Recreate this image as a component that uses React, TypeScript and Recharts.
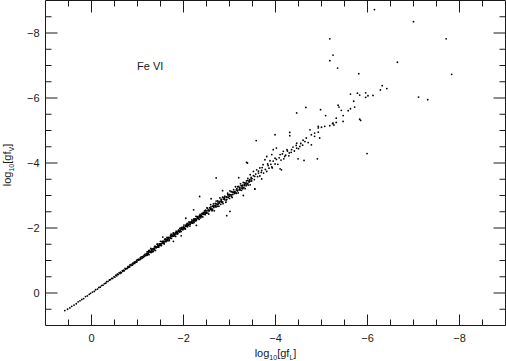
import React from 'react';
import { ScatterChart, Scatter, XAxis, YAxis } from 'recharts';

// log10[gf_L] (x) vs log10[gf_V] (y) pairs
const bandLow: number[][] = [
  [0.58,0.54],[0.52,0.50],[0.47,0.46],[0.43,0.41],[0.38,0.37],[0.33,0.33],[0.29,0.27],[0.25,0.24],[0.21,0.20],[0.17,0.17],
  [0.13,0.11],[0.09,0.09],[0.05,0.04],[0.02,0.01],[-0.02,-0.03],[-0.06,-0.05],[-0.09,-0.10],[-0.13,-0.12],[-0.16,-0.17],[-0.19,-0.18],
  [-0.22,-0.23],[-0.25,-0.24],[-0.28,-0.29],[-0.31,-0.30],[-0.33,-0.35],[-0.36,-0.36],[-0.39,-0.40],[-0.41,-0.41],[-0.44,-0.45],[-0.46,-0.45],
  [-0.49,-0.50],[-0.51,-0.49],[-0.53,-0.55],[-0.55,-0.53],[-0.56,-0.58],[-0.58,-0.57],[-0.60,-0.62],[-0.62,-0.60],[-0.63,-0.64],[-0.65,-0.62],
  [-0.67,-0.69],[-0.68,-0.67],[-0.70,-0.70],[-0.71,-0.68],[-0.73,-0.76],[-0.74,-0.73],[-0.76,-0.75],[-0.78,-0.76],[-0.79,-0.81],[-0.80,-0.79],
  [-0.82,-0.83],[-0.83,-0.80],[-0.84,-0.87],[-0.86,-0.85],[-0.88,-0.89],[-0.89,-0.86],[-0.90,-0.92],[-0.91,-0.90],[-0.93,-0.95],[-0.94,-0.91],
  [-0.95,-0.96],[-0.97,-0.95],[-0.98,-1.00],[-0.99,-0.96],[-1.00,-1.03],[-1.02,-1.01],[-1.03,-1.04],[-1.05,-1.02],[-1.06,-1.08],[-1.07,-1.05],
  [-1.08,-1.11],[-1.10,-1.07],[-1.11,-1.12],[-1.13,-1.10],[-1.14,-1.16],[-1.15,-1.13],[-1.16,-1.19],[-1.18,-1.15],[-1.19,-1.20],
];

const bandMid: number[][] = [
  [-1.20,-1.18],[-1.21,-1.27],[-1.21,-1.17],[-1.22,-1.22],[-1.24,-1.27],[-1.25,-1.18],[-1.25,-1.26],[-1.26,-1.31],[-1.28,-1.25],[-1.29,-1.37],
  [-1.30,-1.25],[-1.30,-1.29],[-1.32,-1.36],[-1.33,-1.27],[-1.35,-1.37],[-1.35,-1.35],[-1.36,-1.32],[-1.38,-1.44],[-1.39,-1.31],[-1.40,-1.43],
  [-1.41,-1.40],[-1.43,-1.50],[-1.44,-1.41],[-1.44,-1.45],[-1.46,-1.41],[-1.47,-1.51],[-1.49,-1.47],[-1.50,-1.59],[-1.50,-1.47],[-1.52,-1.46],
  [-1.53,-1.58],[-1.55,-1.55],[-1.56,-1.55],[-1.56,-1.59],[-1.58,-1.51],[-1.59,-1.65],[-1.61,-1.59],[-1.62,-1.58],[-1.63,-1.65],[-1.64,-1.71],
  [-1.66,-1.61],[-1.67,-1.67],[-1.67,-1.71],[-1.69,-1.61],[-1.71,-1.72],[-1.72,-1.69],[-1.73,-1.81],[-1.74,-1.68],[-1.76,-1.78],[-1.77,-1.76],
  [-1.78,-1.83],[-1.79,-1.75],[-1.81,-1.81],[-1.82,-1.85],[-1.83,-1.74],[-1.84,-1.90],[-1.86,-1.84],[-1.87,-1.88],[-1.88,-1.83],[-1.90,-1.94],
  [-1.91,-1.88],[-1.92,-1.99],[-1.93,-1.92],[-1.95,-1.89],[-1.96,-1.98],[-1.97,-2.02],[-1.99,-1.95],[-2.00,-2.00],[-2.01,-2.09],[-2.02,-1.99],
  [-2.04,-1.97],[-2.05,-2.08],[-2.06,-2.05],[-2.08,-2.14],[-2.09,-2.04],[-2.10,-2.11],[-2.11,-2.09],[-2.13,-2.17],[-2.14,-2.06],[-2.15,-2.17],
  [-2.17,-2.17],[-2.18,-2.25],[-2.19,-2.15],[-2.21,-2.20],[-2.22,-2.27],[-2.23,-2.17],[-2.24,-2.27],[-2.26,-2.24],[-2.27,-2.36],[-2.28,-2.23],
  [-2.30,-2.30],[-2.31,-2.35],[-2.32,-2.29],[-2.34,-2.27],[-2.35,-2.36],[-2.36,-2.42],[-2.38,-2.36],[-2.39,-2.35],[-2.40,-2.43],[-2.42,-2.34],
  [-2.43,-2.48],[-2.44,-2.43],[-2.46,-2.48],[-2.47,-2.41],[-2.48,-2.55],[-2.49,-2.46],
  [-1.207,-1.218],[-1.233,-1.221],[-1.262,-1.279],[-1.284,-1.276],[-1.314,-1.301],[-1.338,-1.352],[-1.367,-1.361],[-1.392,-1.404],[-1.418,-1.409],[-1.446,-1.462],
  [-1.473,-1.466],[-1.497,-1.511],[-1.523,-1.514],[-1.548,-1.536],[-1.574,-1.589],[-1.601,-1.594],[-1.627,-1.643],[-1.652,-1.641],[-1.681,-1.692],[-1.706,-1.699],
  [-1.733,-1.748],[-1.758,-1.747],[-1.786,-1.801],[-1.812,-1.803],[-1.838,-1.852],[-1.865,-1.856],[-1.891,-1.906],[-1.917,-1.905],[-1.944,-1.958],[-1.969,-1.961],
  [-1.996,-2.012],[-2.023,-2.014],[-2.048,-2.063],[-2.075,-2.064],[-2.102,-2.117],[-2.127,-2.119],[-2.155,-2.171],[-2.181,-2.169],[-2.207,-2.223],[-2.234,-2.226],
  [-2.261,-2.279],[-2.287,-2.276],[-2.313,-2.331],[-2.339,-2.328],[-2.366,-2.384],[-2.392,-2.381],[-2.419,-2.437],[-2.446,-2.433],[-2.472,-2.491],[-2.497,-2.487],
  [-1.215,-1.175],[-1.246,-1.306],[-1.278,-1.258],[-1.305,-1.335],[-1.343,-1.283],[-1.371,-1.421],[-1.404,-1.394],[-1.431,-1.501],[-1.462,-1.432],[-1.489,-1.509],
  [-1.518,-1.468],[-1.544,-1.584],[-1.579,-1.539],[-1.606,-1.666],[-1.634,-1.614],[-1.662,-1.692],[-1.693,-1.633],[-1.719,-1.769],[-1.751,-1.741],[-1.779,-1.849],
  [-1.807,-1.777],[-1.833,-1.853],[-1.861,-1.811],[-1.889,-1.929],[-1.921,-1.881],[-1.948,-2.008],[-1.977,-1.957],[-2.006,-2.036],[-2.034,-1.974],[-2.062,-2.112],
  [-2.091,-2.081],[-2.118,-2.188],[-2.146,-2.116],[-2.175,-2.195],[-2.203,-2.153],[-2.231,-2.271],[-2.259,-2.219],[-2.288,-2.348],[-2.317,-2.297],[-2.345,-2.375],
  [-2.374,-2.314],[-2.402,-2.452],[-2.431,-2.421],[-2.459,-2.529],[-2.487,-2.457],
  [-1.78,-1.59],[-2.22,-2.56],[-2.35,-2.97],[-1.55,-1.72],[-2.05,-2.30],[-1.95,-1.76],[-2.28,-2.08],
];

const bandHigh: number[][] = [
  [-2.50,-2.46],[-2.51,-2.62],[-2.53,-2.46],[-2.54,-2.56],[-2.55,-2.43],[-2.57,-2.63],[-2.58,-2.57],[-2.59,-2.72],[-2.61,-2.56],[-2.62,-2.53],
  [-2.63,-2.67],[-2.65,-2.74],[-2.66,-2.63],[-2.67,-2.53],[-2.69,-2.76],[-2.70,-2.70],[-2.71,-2.83],[-2.73,-2.67],[-2.74,-2.72],[-2.75,-2.80],
  [-2.77,-2.67],[-2.78,-2.79],[-2.79,-2.93],[-2.81,-2.73],[-2.82,-2.85],[-2.83,-2.79],[-2.85,-2.95],[-2.86,-2.75],[-2.88,-2.94],[-2.89,-2.88],
  [-2.90,-2.98],[-2.92,-2.79],[-2.93,-2.95],[-2.94,-2.88],[-2.96,-3.07],[-2.97,-2.94],[-2.98,-3.02],[-3.00,-2.91],[-3.01,-3.14],[-3.02,-3.02],
  [-3.04,-2.97],[-3.05,-3.12],[-3.06,-2.94],[-3.08,-3.10],[-3.09,-3.18],[-3.11,-3.06],[-3.12,-3.11],[-3.13,-3.27],[-3.15,-3.07],[-3.16,-3.21],
  [-3.17,-3.14],[-3.19,-3.08],[-3.20,-3.28],[-3.22,-3.23],[-3.23,-3.17],[-3.24,-3.36],[-3.26,-3.16],[-3.27,-3.30],[-3.28,-3.26],[-3.30,-3.40],
  [-3.31,-3.24],[-3.33,-3.39],[-3.34,-3.21],[-3.35,-3.36],[-3.37,-3.45],[-3.38,-3.34],[-3.40,-3.53],[-3.41,-3.32],[-3.42,-3.42],[-3.44,-3.49],
  [-3.45,-3.33],[-3.47,-3.56],[-3.48,-3.45],[-3.49,-3.52],
  [-2.512,-2.531],[-2.547,-2.528],[-2.583,-2.604],[-2.618,-2.597],[-2.652,-2.671],[-2.689,-2.668],[-2.724,-2.745],[-2.758,-2.741],[-2.793,-2.817],[-2.829,-2.806],
  [-2.864,-2.889],[-2.898,-2.874],[-2.935,-2.958],[-2.969,-2.951],[-3.004,-3.031],[-3.041,-3.018],[-3.076,-3.099],[-3.111,-3.087],[-3.147,-3.172],[-3.182,-3.161],
  [-3.218,-3.244],[-3.253,-3.229],[-3.289,-3.316],[-3.324,-3.301],[-3.361,-3.388],[-3.396,-3.372],[-3.432,-3.461],[-3.468,-3.443],
  [-2.523,-2.608],[-2.561,-2.531],[-2.597,-2.647],[-2.634,-2.554],[-2.671,-2.691],[-2.706,-2.646],[-2.745,-2.835],[-2.781,-2.771],[-2.817,-2.887],[-2.852,-2.802],
  [-2.889,-2.919],[-2.927,-2.837],[-2.962,-3.022],[-2.998,-2.978],[-3.035,-3.115],[-3.071,-3.031],[-3.107,-3.117],[-3.143,-3.073],[-3.179,-3.269],[-3.215,-3.185],
  [-3.252,-3.302],[-3.287,-3.207],[-3.324,-3.344],[-3.361,-3.301],[-3.397,-3.467],[-3.433,-3.423],[-3.469,-3.509],
  [-2.71,-3.54],[-2.94,-2.38],[-3.01,-2.51],[-3.39,-4.00],[-3.55,-3.20],[-2.60,-2.90],[-3.20,-3.55],[-3.30,-3.00],[-2.85,-3.15],
  [-3.52,-3.61],[-3.54,-3.49],[-3.57,-3.66],[-3.61,-3.58],[-3.63,-3.75],[-3.66,-3.60],[-3.69,-3.71],[-3.71,-3.86],[-3.74,-3.69],[-3.78,-3.80],
  [-3.81,-3.74],[-3.83,-3.97],[-3.86,-3.84],[-3.90,-3.96],[-3.93,-3.85],[-3.95,-4.06],[-3.99,-3.97],[-4.02,-4.11],[-4.05,-3.96],[-4.08,-4.16],
  [-4.12,-4.09],[-4.15,-4.28],[-4.18,-4.13],[-4.22,-4.24],[-4.26,-4.37],[-4.29,-4.22],[-4.34,-4.33],[-4.38,-4.49],[-4.41,-4.37],[-4.45,-4.54],
  [-4.50,-4.44],[-4.55,-4.60],[-4.59,-4.55],
];

const upperCluster: number[][] = [
  [-6.32,-6.38],[-6.42,-6.29],[-6.28,-6.25],[-5.63,-6.12],[-5.78,-6.15],[-5.83,-6.09],[-5.96,-6.16],[-6.01,-6.07],[-5.96,-6.02],[-6.12,-6.08],
  [-5.70,-5.90],[-4.66,-5.71],[-4.98,-5.64],[-5.36,-5.78],[-5.38,-5.72],[-5.43,-5.62],[-5.58,-5.61],[-5.63,-5.67],[-5.72,-5.72],[-5.09,-5.46],
  [-5.47,-5.46],[-5.32,-5.38],[-5.47,-5.28],[-5.83,-5.35],[-5.85,-5.31],[-4.93,-5.13],[-5.00,-5.10],[-5.07,-5.13],[-5.18,-5.15],[-5.24,-5.21],
  [-5.27,-5.17],[-5.32,-5.25],[-5.25,-5.23],[-4.93,-5.08],[-4.93,-4.95],[-4.85,-4.92],[-4.78,-4.87],[-4.75,-5.02],[-4.85,-4.82],[-4.96,-4.77],
  [-4.67,-4.77],[-4.64,-4.66],[-4.60,-4.70],[-4.71,-4.63],[-4.78,-4.56],[-4.31,-4.94],[-4.31,-4.84],[-3.99,-4.87],[-3.58,-4.69],[-4.46,-4.61],
  [-4.53,-4.51],[-4.46,-4.46],[-4.35,-4.41],[-4.25,-4.41],[-4.30,-4.31],[-4.17,-4.36],[-4.02,-4.46],[-3.95,-4.41],[-4.10,-4.26],[-4.20,-4.20],
  [-4.49,-4.13],[-4.62,-4.08],[-4.91,-4.13],[-3.92,-4.26],[-3.81,-4.20],[-3.77,-4.10],[-3.88,-4.07],[-3.99,-4.15],[-3.73,-3.95],[-3.84,-3.92],
  [-3.92,-3.88],[-3.66,-3.85],[-3.59,-3.79],[-3.70,-3.77],[-4.10,-3.82],[-4.13,-3.79],[-3.52,-3.74],[-3.45,-3.64],[-3.55,-3.59],[-3.63,-3.69],
  [-3.55,-3.20],[-3.70,-3.51],[-3.37,-4.02],
];

const outliers: number[][] = [
  [-6.15,-8.72],[-7.00,-8.35],[-5.18,-7.82],[-7.71,-7.82],[-5.25,-7.32],[-5.18,-7.15],[-6.65,-7.10],[-5.35,-6.92],[-5.81,-6.75],
  [-7.83,-6.73],[-7.11,-6.03],[-7.31,-5.95],[-5.99,-4.29],[-4.46,-5.54],
];

const DOMAIN: [number, number] = [-9, 1];
const minorTicks = [0.5, 0, -0.5, -1, -1.5, -2, -2.5, -3, -3.5, -4, -4.5, -5, -5.5, -6, -6.5, -7, -7.5, -8, -8.5];
const majorTicks = [0, -2, -4, -6, -8];
const ionLabel = 'Fe VI';

const points = [...bandLow, ...bandMid, ...bandHigh, ...upperCluster, ...outliers].map(([x, y]) => ({ x, y }));

const FONT = '"Liberation Sans", Arial, Helvetica, sans-serif';
const INK = '#1a1a1a';
const fmt = (v: number) => (v === 0 ? '0' : '\u2212' + Math.abs(v));

const makeTick = (side: 'bottom' | 'top' | 'left' | 'right') => (props: any) => {
  const { x, y, payload } = props;
  const v = payload.value;
  const major = majorTicks.includes(v);
  const len = major ? (side === 'bottom' ? 11 : 12) : 6;
  let line;
  let label = null;
  if (side === 'bottom') {
    line = <line x1={x} x2={x} y1={y} y2={y - len} stroke={INK} strokeWidth={1} />;
    if (major) label = <text x={x} y={y + 16} textAnchor="middle" fontSize={11} fontFamily={FONT} fill={INK}>{fmt(v)}</text>;
  } else if (side === 'top') {
    line = <line x1={x} x2={x} y1={y} y2={y + len} stroke={INK} strokeWidth={1} />;
  } else if (side === 'left') {
    line = <line x1={x} x2={x + len} y1={y} y2={y} stroke={INK} strokeWidth={1} />;
    if (major) label = <text x={x - 6} y={y + 4} textAnchor="end" fontSize={11} fontFamily={FONT} fill={INK}>{fmt(v)}</text>;
  } else {
    line = <line x1={x} x2={x - len} y1={y} y2={y} stroke={INK} strokeWidth={1} />;
  }
  return <g>{line}{label}</g>;
};

const Dot = (props: any) => {
  const { cx, cy } = props;
  if (cx == null || cy == null) return null;
  return <circle cx={cx} cy={cy} r={0.9} fill="#000" />;
};

export default function App() {
  return (
    <div style={{ position: 'absolute', left: 0, top: 0, width: 506, height: 361, background: '#fff' }}>
      <ScatterChart width={506} height={361} margin={{ top: 0, right: 0, bottom: 0, left: 0 }}>
        <XAxis xAxisId="b" type="number" dataKey="x" domain={DOMAIN} reversed allowDataOverflow
          orientation="bottom" height={35.5} ticks={minorTicks} interval={0} tickSize={0} tickMargin={0}
          tickLine={false} axisLine={{ stroke: INK }} tick={makeTick('bottom')} />
        <XAxis xAxisId="t" type="number" dataKey="x" domain={DOMAIN} reversed allowDataOverflow
          orientation="top" height={0.5} ticks={minorTicks} interval={0} tickSize={0} tickMargin={0}
          tickLine={false} axisLine={{ stroke: INK }} tick={makeTick('top')} />
        <YAxis yAxisId="l" type="number" dataKey="y" domain={DOMAIN} reversed allowDataOverflow
          orientation="left" width={45.5} ticks={minorTicks} interval={0} tickSize={0} tickMargin={0}
          tickLine={false} axisLine={{ stroke: INK }} tick={makeTick('left')} />
        <YAxis yAxisId="r" type="number" dataKey="y" domain={DOMAIN} reversed allowDataOverflow
          orientation="right" width={0.5} ticks={minorTicks} interval={0} tickSize={0} tickMargin={0}
          tickLine={false} axisLine={{ stroke: INK }} tick={makeTick('right')} />
        <Scatter data={points} xAxisId="b" yAxisId="l" isAnimationActive={false} shape={Dot} />
        <Scatter data={points} xAxisId="t" yAxisId="r" isAnimationActive={false} shape={() => null} />
        <text x={137} y={70} fontSize={11} fontFamily={FONT} fill={INK}>{ionLabel}</text>
        <text x={275.5} y={357} textAnchor="middle" fontSize={11} fontFamily={FONT} fill={INK}>
          log<tspan dy={3} fontSize={7}>10</tspan><tspan dy={-3}>[gf</tspan><tspan dy={3} fontSize={7}>L</tspan><tspan dy={-3}>]</tspan>
        </text>
        <text transform="rotate(-90)" x={-165} y={11} textAnchor="middle" fontSize={11} fontFamily={FONT} fill={INK}>
          log<tspan dy={3} fontSize={7}>10</tspan><tspan dy={-3}>[gf</tspan><tspan dy={3} fontSize={7}>V</tspan><tspan dy={-3}>]</tspan>
        </text>
      </ScatterChart>
    </div>
  );
}
